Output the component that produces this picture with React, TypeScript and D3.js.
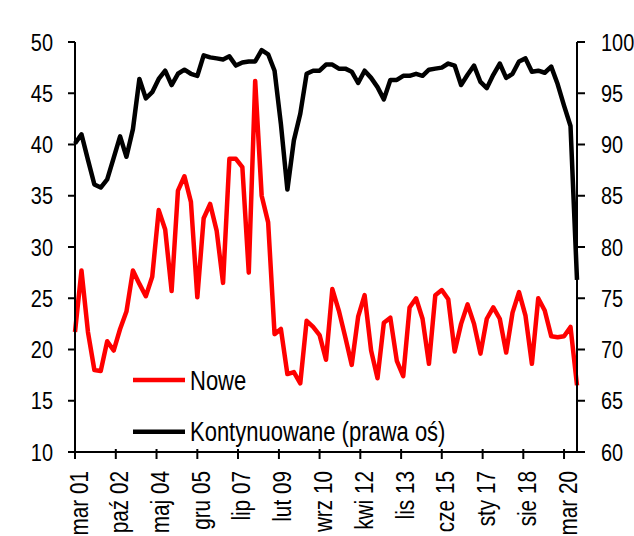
import React from 'react';
import * as d3 from 'd3';

const WIDTH = 634;
const HEIGHT = 536;

// Quarterly series, first quarter = March 2001
const SERIES_NEW_NAME = 'Nowe';
const SERIES_CONT_NAME = 'Kontynuowane (prawa oś)';

const NOWE = [
  21.7, 27.7, 21.7, 18.0, 17.9, 20.8, 19.9, 22.0, 23.7, 27.7,
  26.4, 25.2, 27.1, 33.6, 31.7, 25.7, 35.5, 36.9, 34.4, 25.1,
  32.8, 34.2, 31.6, 26.5, 38.6, 38.6, 37.8, 27.5, 46.2, 35.0,
  32.4, 21.5, 22.0, 17.6, 17.8, 16.7, 22.8, 22.2, 21.4, 19.0,
  25.9, 23.8, 21.2, 18.5, 23.2, 25.3, 19.9, 17.2, 22.6, 23.1,
  18.9, 17.4, 24.1, 25.0, 23.0, 18.6, 25.3, 25.8, 24.9, 19.8,
  22.5, 24.4, 22.5, 19.6, 23.0, 24.1, 23.0, 19.7, 23.6, 25.6,
  23.3, 18.6, 25.0, 23.8, 21.3, 21.2, 21.3, 22.2, 16.5,
];

const KONTYNUOWANE = [
  90.1, 91.0, 88.5, 86.1, 85.8, 86.6, 88.7, 90.8, 88.8, 91.5,
  96.4, 94.5, 95.1, 96.4, 97.2, 95.8, 96.9, 97.3, 96.9, 96.7,
  98.7, 98.5, 98.4, 98.3, 98.6, 97.7, 98.0, 98.1, 98.1, 99.2,
  98.8, 97.2, 92.0, 85.6, 90.4, 93.0, 96.9, 97.2, 97.2, 97.8,
  97.8, 97.4, 97.4, 97.1, 96.0, 97.2, 96.5, 95.6, 94.4, 96.3,
  96.3, 96.7, 96.7, 96.9, 96.7, 97.3, 97.4, 97.5, 97.9, 97.7,
  95.8, 96.8, 97.7, 96.1, 95.5, 96.8, 97.9, 96.5, 96.9, 98.1,
  98.4, 97.1, 97.2, 97.0, 97.6, 95.9, 93.8, 91.8, 76.8,
];

const LEFT_TICKS = [10, 15, 20, 25, 30, 35, 40, 45, 50];
const RIGHT_TICKS = [60, 65, 70, 75, 80, 85, 90, 95, 100];
const X_TICK_LABELS = [
  'mar 01', 'paź 02', 'maj 04', 'gru 05', 'lip 07', 'lut 09', 'wrz 10',
  'kwi 12', 'lis 13', 'cze 15', 'sty 17', 'sie 18', 'mar 20',
];
const X_TICK_STEP_MONTHS = 19;

const FIRST_QUARTER = new Date(2001, 2, 1);
const quarterDates = NOWE.map((_, i) => d3.timeMonth.offset(FIRST_QUARTER, 3 * i));
const tickDates = X_TICK_LABELS.map((_, k) => d3.timeMonth.offset(FIRST_QUARTER, X_TICK_STEP_MONTHS * k));

const FONT = "'Liberation Sans', Arial, sans-serif";
const NARROW = 0.83;

export default function App() {
  const plot = { left: 75, right: 577, top: 42, bottom: 452 };

  const x = d3
    .scaleTime()
    .domain([quarterDates[0], quarterDates[quarterDates.length - 1]])
    .range([plot.left, plot.right]);
  const yL = d3.scaleLinear().domain([10, 50]).range([plot.bottom, plot.top]);
  const yR = d3.scaleLinear().domain([60, 100]).range([plot.bottom, plot.top]);

  const lineNew = d3
    .line<number>()
    .x((_, i) => x(quarterDates[i]))
    .y((d) => yL(d));
  const lineCont = d3
    .line<number>()
    .x((_, i) => x(quarterDates[i]))
    .y((d) => yR(d));

  const tickFont = 24;
  const xTickFont = 25;
  const legendFont = 27;

  return (
    <svg
      width={WIDTH}
      height={HEIGHT}
      style={{ position: 'absolute', left: 0, top: 0, display: 'block', background: '#fff' }}
      fontFamily={FONT}
    >
      {/* series */}
      <path d={lineNew(NOWE) || ''} fill="none" stroke="#ff0000" strokeWidth={4.5} strokeLinejoin="round" />
      <path d={lineCont(KONTYNUOWANE) || ''} fill="none" stroke="#000" strokeWidth={4.5} strokeLinejoin="round" />

      {/* left axis */}
      <line x1={plot.left} x2={plot.left} y1={plot.top} y2={plot.bottom} stroke="#000" strokeWidth={2} />
      {LEFT_TICKS.map((v) => (
        <g key={'l' + v}>
          <line x1={plot.left - 7} x2={plot.left} y1={yL(v)} y2={yL(v)} stroke="#000" strokeWidth={2} />
          <text
            transform={`translate(53,${yL(v)}) scale(${NARROW},1)`}
            textAnchor="end"
            dy="0.36em"
            fontSize={tickFont}
            fill="#000"
          >
            {v}
          </text>
        </g>
      ))}

      {/* right axis */}
      <line x1={plot.right} x2={plot.right} y1={plot.top} y2={plot.bottom} stroke="#000" strokeWidth={2} />
      {RIGHT_TICKS.map((v) => (
        <g key={'r' + v}>
          <line x1={plot.right} x2={plot.right + 8} y1={yR(v)} y2={yR(v)} stroke="#000" strokeWidth={2} />
          <text
            transform={`translate(601,${yR(v)}) scale(${NARROW},1)`}
            textAnchor="start"
            dy="0.36em"
            fontSize={tickFont}
            fill="#000"
          >
            {v}
          </text>
        </g>
      ))}

      {/* bottom axis */}
      <line x1={plot.left - 7} x2={plot.right + 5} y1={plot.bottom} y2={plot.bottom} stroke="#000" strokeWidth={2} />
      {tickDates.map((d, k) => (
        <g key={'x' + k}>
          <line x1={x(d)} x2={x(d)} y1={plot.bottom - 3} y2={plot.bottom + 7} stroke="#000" strokeWidth={2} />
          <text
            transform={`translate(${x(d) + 12.5},471) rotate(-90) scale(${NARROW},1)`}
            textAnchor="end"
            fontSize={xTickFont}
            fill="#000"
          >
            {X_TICK_LABELS[k]}
          </text>
        </g>
      ))}

      {/* legend */}
      <line x1={133} x2={185} y1={380} y2={380} stroke="#ff0000" strokeWidth={4.5} />
      <text transform={`translate(190,389.5) scale(0.815,1)`} fontSize={legendFont} fill="#000">
        {SERIES_NEW_NAME}
      </text>
      <line x1={133} x2={185} y1={431.7} y2={431.7} stroke="#000" strokeWidth={4.5} />
      <text transform={`translate(190,441) scale(0.815,1)`} fontSize={legendFont} fill="#000">
        {SERIES_CONT_NAME}
      </text>
    </svg>
  );
}
